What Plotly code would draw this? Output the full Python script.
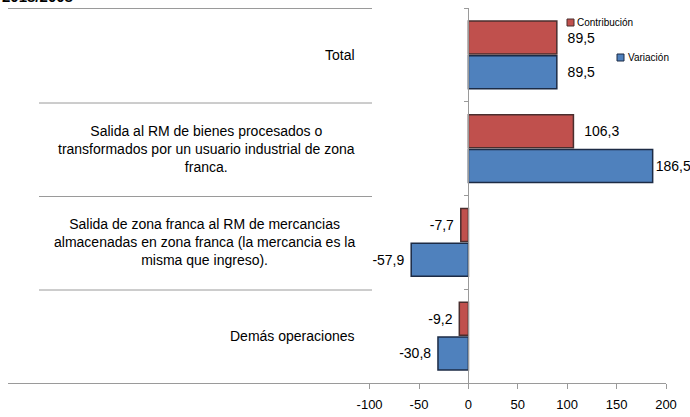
import plotly.graph_objects as go

categories = [
    "Total",
    "Salida al RM de bienes procesados o<br>transformados por un usuario industrial de zona<br>franca.",
    "Salida de zona franca al RM de mercancias<br>almacenadas en zona franca (la mercancia es la<br>misma que ingreso).",
    "Demás operaciones",
]
contribucion = [89.5, 106.3, -7.7, -9.2]
variacion = [89.5, 186.5, -57.9, -30.8]
tick_vals = [-100, -50, 0, 50, 100, 150, 200]
tick_text = ["-100", "-50", "0", "50", "100", "150", "200"]
title_text = "2018/2008"

W, H = 690, 417
L, R, T, B = 8, 24, 8, 34
PW, PH = W - L - R, H - T - B
X_MIN, X_MAX = -466, 200


def px(x):
    return (x - L) / PW


def py(y):
    return 1 - (y - T) / PH


def fmt(v):
    return ("%.1f" % v).replace(".", ",")


def label(v):
    s = fmt(v)
    if v < 0:
        return s + "\u00a0"
    if v > 0.8 * X_MAX:
        return s
    return "\u00a0\u00a0" + s


FONT = "Liberation Sans, Arial, sans-serif"
RED, BLUE = "#C0504D", "#4F81BD"
RED_LINE, BLUE_LINE = "#4a2e2e", "#1c2b45"

fig = go.Figure()
fig.add_trace(go.Bar(
    y=categories, x=contribucion, orientation="h", name="Contribución",
    marker=dict(color=RED, line=dict(color=RED_LINE, width=1.5)),
    text=[label(v) for v in contribucion],
    textposition="outside", textfont=dict(size=14, color="#000000", family=FONT),
    cliponaxis=False, constraintext="none", showlegend=False,
))
fig.add_trace(go.Bar(
    y=categories, x=variacion, orientation="h", name="Variación",
    marker=dict(color=BLUE, line=dict(color=BLUE_LINE, width=1.5)),
    text=[label(v) for v in variacion],
    textposition="outside", textfont=dict(size=14, color="#000000", family=FONT),
    cliponaxis=False, constraintext="none", showlegend=False,
))

shapes = []
line_col = "#9a9a9a"
shapes.append(dict(type="line", xref="paper", yref="paper", x0=px(8), x1=px(372), y0=py(8.5), y1=py(8.5),
                   line=dict(color=line_col, width=1)))
for yy in (103, 196.5, 290):
    shapes.append(dict(type="line", xref="paper", yref="paper", x0=px(39), x1=px(372), y0=py(yy), y1=py(yy),
                       line=dict(color=line_col, width=1)))
shapes.append(dict(type="rect", xref="paper", yref="paper", x0=px(567), x1=px(574), y0=py(19), y1=py(26),
                   fillcolor=RED, line=dict(color=RED_LINE, width=1)))
shapes.append(dict(type="rect", xref="paper", yref="paper", x0=px(617), x1=px(624), y0=py(54), y1=py(61),
                   fillcolor=BLUE, line=dict(color=BLUE_LINE, width=1)))

annotations = []
for c in categories:
    annotations.append(dict(xref="paper", yref="y", x=px(357), y=c, text=c, showarrow=False,
                            xanchor="right", yanchor="middle", align="center",
                            font=dict(size=14, color="#000000", family=FONT)))
annotations.append(dict(xref="paper", yref="paper", x=px(575), y=py(22.5), text="Contribución",
                        showarrow=False, xanchor="left", yanchor="middle",
                        font=dict(size=10, color="#000000", family=FONT)))
annotations.append(dict(xref="paper", yref="paper", x=px(626), y=py(57.5), text="Variación",
                        showarrow=False, xanchor="left", yanchor="middle",
                        font=dict(size=10, color="#000000", family=FONT)))
annotations.append(dict(xref="paper", yref="paper", x=px(0), y=py(7), text="<b>" + title_text + "</b>",
                        showarrow=False, xanchor="left", yanchor="bottom",
                        font=dict(size=15, color="#000000", family=FONT)))

fig.update_layout(
    width=W, height=H,
    margin=dict(l=L, r=R, t=T, b=B, autoexpand=False),
    paper_bgcolor="white", plot_bgcolor="white",
    barmode="group", bargap=0.26, bargroupgap=0.05,
    font=dict(family=FONT, size=13, color="#000000"),
    xaxis=dict(range=[X_MIN, X_MAX], tickvals=tick_vals, ticktext=tick_text, automargin=False,
               showgrid=False, zeroline=False, showline=True, linecolor=line_col, linewidth=1,
               ticks="outside", ticklen=5, tickcolor=line_col,
               tickfont=dict(size=13, color="#000000", family=FONT), ticklabelstandoff=4),
    yaxis=dict(autorange="reversed", showticklabels=False, showgrid=False, zeroline=False,
               showline=True, linecolor=line_col, linewidth=1, automargin=False,
               ticks="outside", ticklen=4, tickcolor=line_col, tickson="boundaries",
               anchor="free", position=(468 - L) / PW),
    shapes=shapes, annotations=annotations,
    showlegend=False,
)

fig.write_html("out.html", config={"displayModeBar": False},
               post_script="document.body.style.margin='0';document.body.style.overflow='hidden';")
